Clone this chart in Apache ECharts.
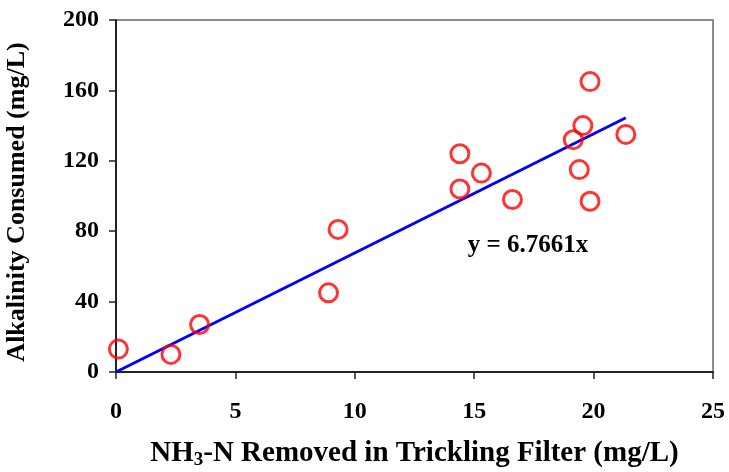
<!DOCTYPE html>
<html><head><meta charset="utf-8">
<script src="https://cdn.jsdelivr.net/npm/echarts@6/dist/echarts.min.js"></script>
<style>html,body{margin:0;padding:0;background:#fff}#c{width:729px;height:472px}</style>
</head><body><div id="c"></div>
<script>
const nh3Removed = [0.1, 2.3, 3.5, 8.9, 9.3, 14.4, 14.4, 15.3, 16.6, 19.15, 19.55, 19.4, 19.85, 19.85, 21.35];
const alkConsumed = [13, 10, 27, 45, 81, 124, 104, 113, 98, 132, 140, 115, 165, 97, 135];
const slope = 6.7661;
const fitX = [0, 21.35];
const xTicks = [0, 5, 10, 15, 20, 25];
const yTicks = [0, 40, 80, 120, 160, 200];
const eqText = 'y = 6.7661x';

const font = '"Liberation Serif","Times New Roman",serif';
const chart = echarts.init(document.getElementById('c'));
chart.setOption({
  animation: false,
  backgroundColor: '#fff',
  grid: {left: 116, right: 16, top: 20, bottom: 100, containLabel: false, outerBoundsMode: 'none',
         show: true, borderColor: '#8c8c8c', borderWidth: 2, backgroundColor: 'transparent'},
  xAxis: {
    type: 'value', min: xTicks[0], max: xTicks[xTicks.length-1], interval: 5,
    splitLine: {show: false},
    axisLine: {show: true, onZero: false, lineStyle: {color: '#222', width: 2}},
    axisTick: {show: true, length: 7, lineStyle: {color: '#222', width: 1.5}},
    axisLabel: {color: '#000', fontFamily: font, fontWeight: 'bold', fontSize: 24, margin: 28},
    name: '{a|NH}{s|3}{a|-N Removed in Trickling Filter (mg/L)}',
    nameLocation: 'middle', nameGap: 66,
    nameTextStyle: {rich: {
      a: {fontFamily: font, fontWeight: 'bold', fontSize: 29, color: '#000'},
      s: {fontFamily: font, fontWeight: 'bold', fontSize: 19, color: '#000', verticalAlign: 'bottom', padding: [13, 0, 0, 0]}
    }}
  },
  yAxis: {
    type: 'value', min: yTicks[0], max: yTicks[yTicks.length-1], interval: 40,
    splitLine: {show: false},
    axisLine: {show: true, onZero: false, lineStyle: {color: '#222', width: 2}},
    axisTick: {show: true, length: 7, lineStyle: {color: '#222', width: 1.5}},
    axisLabel: {color: '#000', fontFamily: font, fontWeight: 'bold', fontSize: 24, margin: 17},
    name: 'Alkalinity Consumed (mg/L)', nameLocation: 'middle', nameGap: 86, nameRotate: 90,
    nameTextStyle: {fontFamily: font, fontWeight: 'bold', fontSize: 26, color: '#000', padding: [0, 12, 0, 0]}
  },
  series: [
    {
      type: 'line', data: fitX.map(x => [x, slope * x]), symbol: 'none',
      lineStyle: {color: '#0000ff', width: 3}, z: 2,
      markPoint: {
        symbol: 'rect', symbolSize: 0,
        data: [{coord: [17.25, 72], value: eqText}],
        label: {show: true, formatter: eqText, position: 'inside', color: '#000', fontFamily: font, fontWeight: 'bold', fontSize: 25}
      }
    },
    {
      type: 'scatter', data: nh3Removed.map((x, i) => [x, alkConsumed[i]]),
      symbol: 'circle', symbolSize: 18,
      itemStyle: {color: 'rgba(255,255,255,0)', borderColor: '#ff0000', borderWidth: 3}, z: 3
    }
  ]
});
</script></body></html>
